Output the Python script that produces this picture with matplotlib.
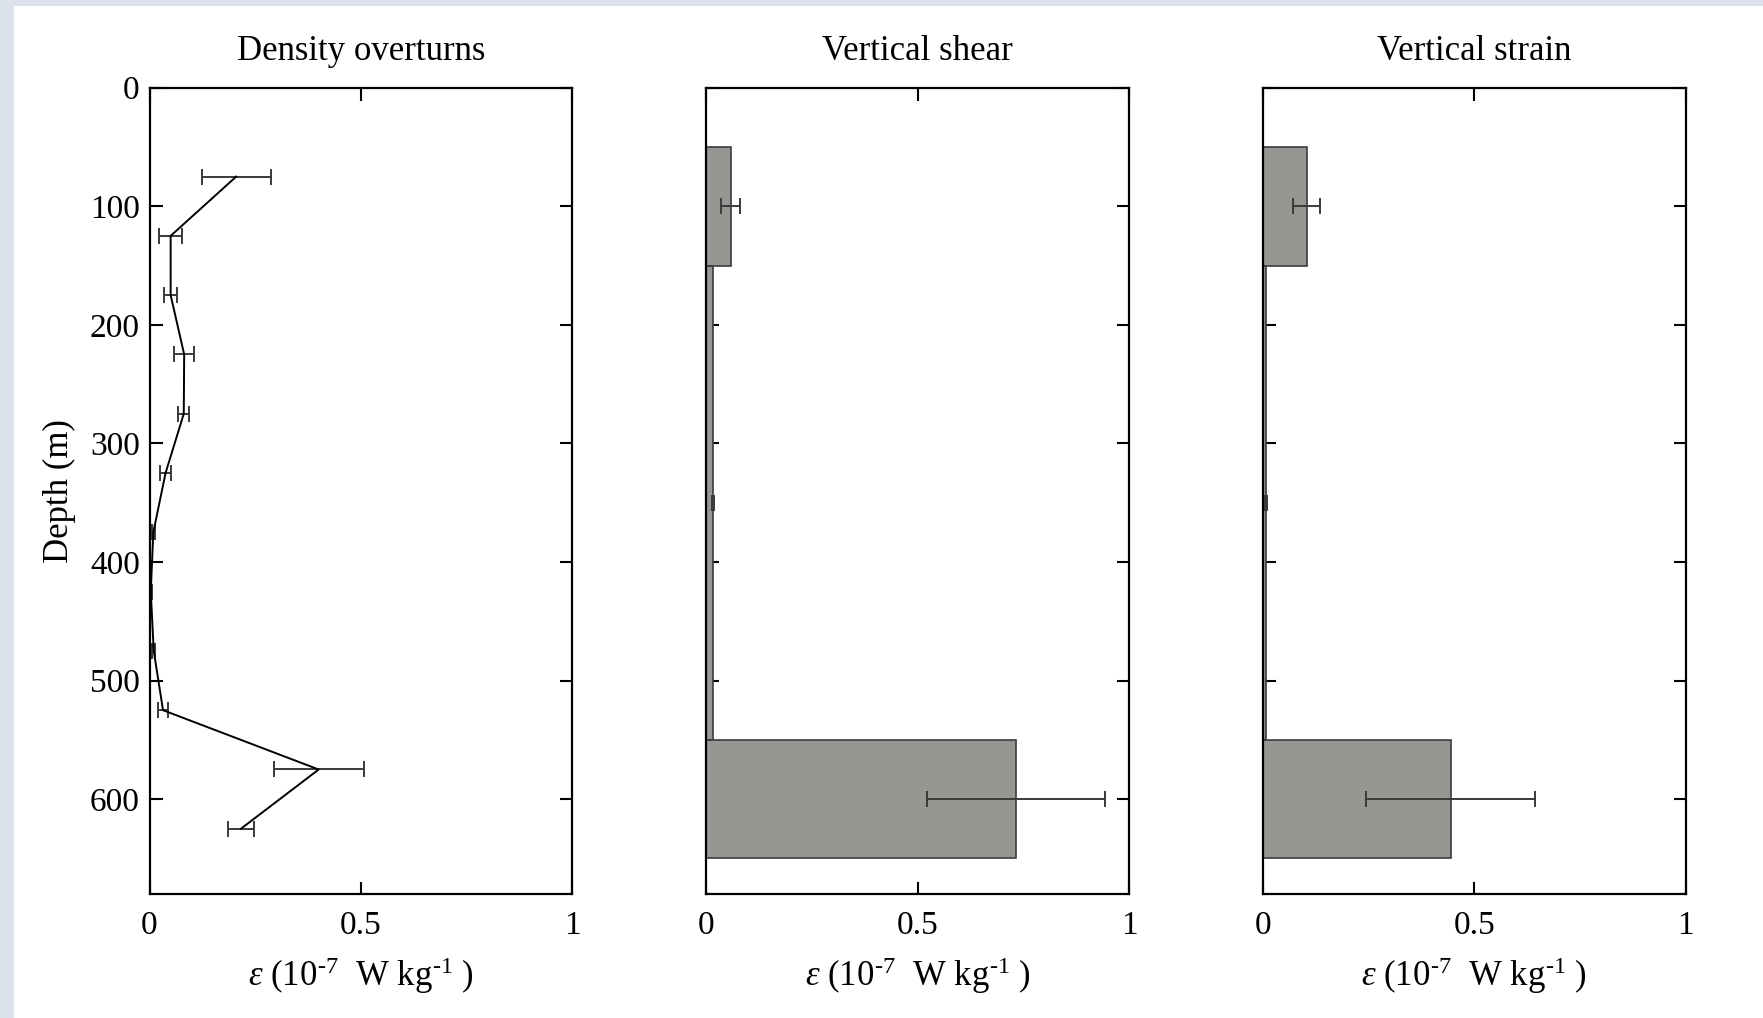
import matplotlib
matplotlib.use('Agg')
import matplotlib.pyplot as plt
from matplotlib.patches import Rectangle

# Perfil de dissipação por overturns (profundidade central, valor, erro)
prof_over = [75, 125, 175, 225, 275, 325, 375, 425, 475, 525, 575, 625]
eps_over = [0.205, 0.050, 0.050, 0.082, 0.081, 0.038, 0.009, 0.003, 0.010, 0.032, 0.400, 0.216]
err_over = [0.082, 0.028, 0.016, 0.023, 0.013, 0.014, 0.003, 0.003, 0.003, 0.012, 0.106, 0.031]

# Camadas das barras (topo, base) e valores
camadas_topo = [50, 150, 550]
camadas_base = [150, 550, 650]
prof_bar = [100, 350, 600]
eps_shear = [0.058, 0.016, 0.733]
err_shear = [0.022, 0.002, 0.211]
eps_strain = [0.104, 0.008, 0.445]
err_strain = [0.032, 0.002, 0.200]

titulos = ['Density overturns', 'Vertical shear', 'Vertical strain']
yticks = [0, 100, 200, 300, 400, 500, 600]
xticks = [0, 0.5, 1]
xtick_labels = ['0', '0.5', '1']

plt.rcParams['font.family'] = ['Liberation Serif', 'DejaVu Serif']
plt.rcParams['mathtext.fontset'] = 'custom'
plt.rcParams['mathtext.rm'] = 'Liberation Serif'
plt.rcParams['mathtext.it'] = 'Liberation Serif:italic'
plt.rcParams['font.size'] = 24

fig = plt.figure(figsize=(17.63, 10.18), dpi=100)
fig.patch.set_facecolor('#dde3ec')
# fundo branco (a imagem original tem uma borda azulada)
fig.patches.append(Rectangle((14 / 1763, 0), 1, 1 - 6 / 1018, transform=fig.transFigure,
                             facecolor='white', edgecolor='none', zorder=-10))

lefts = [0.0848, 0.4005, 0.7162]
axes = [fig.add_axes([l, 0.1218, 0.2399, 0.7921]) for l in lefts]

xlabel = r'$\varepsilon$ (10$^{\text{-7}}$  W kg$^{\text{-1}}$ )'

for i, ax in enumerate(axes):
    ax.set_xlim(0, 1)
    ax.set_ylim(680, 0)
    ax.set_xticks(xticks)
    ax.set_xticklabels(xtick_labels)
    ax.set_yticks(yticks)
    ax.tick_params(direction='in', top=True, right=True, length=9, width=1.5)
    ax.tick_params(axis='x', pad=12)
    ax.tick_params(axis='y', pad=7)
    for s in ax.spines.values():
        s.set_linewidth(1.6)
    ax.set_title(titulos[i], pad=20, fontsize=25)
    ax.set_xlabel(xlabel, labelpad=10, fontsize=25)
    if i > 0:
        ax.set_yticklabels([])

# painel 1: linha com barras de erro
ax = axes[0]
ax.plot(eps_over, prof_over, color='black', lw=1.4, zorder=3)
ax.errorbar(eps_over, prof_over, xerr=err_over, fmt='none', ecolor='#3a3a3a',
            elinewidth=1.4, capsize=6, capthick=1.4, zorder=2)
ax.set_ylabel('Depth (m)', labelpad=10, fontsize=25)

# painéis 2 e 3: barras horizontais
alturas = [b - t for t, b in zip(camadas_topo, camadas_base)]
for ax, vals, errs in [(axes[1], eps_shear, err_shear), (axes[2], eps_strain, err_strain)]:
    ax.barh(prof_bar, vals, height=alturas, color='#969692', edgecolor='#3c3c3c',
            linewidth=1.2, zorder=2)
    ax.errorbar(vals, prof_bar, xerr=errs, fmt='none', ecolor='#3a3a3a',
                elinewidth=1.4, capsize=6, capthick=1.4, zorder=3)

plt.savefig('out.png', dpi=100, facecolor=fig.get_facecolor())
